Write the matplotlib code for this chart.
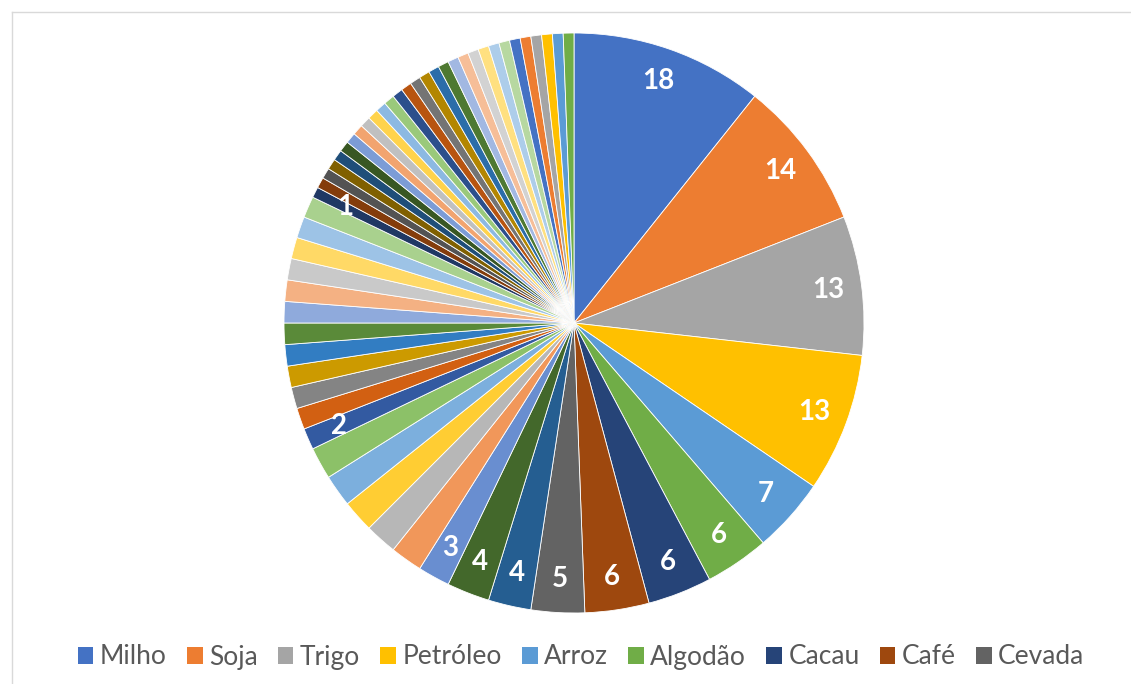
import colorsys

import matplotlib
matplotlib.use("Agg")
import matplotlib.pyplot as plt
import numpy as np
from matplotlib.lines import Line2D
from matplotlib.patches import Patch

plt.rcParams["font.family"] = ["Lato", "DejaVu Sans"]

# Commodity shares; only the first nine categories carry names in the legend
names = ["Milho", "Soja", "Trigo", "Petróleo", "Arroz", "Algodão", "Cacau", "Café", "Cevada"]
values = [18, 14, 13, 13, 7, 6, 6, 6, 5,
          0, 4, 4, 3, 3, 3, 3, 3, 3,
          2, 2, 2, 2, 2, 2,
          2, 2, 2, 2, 2, 2,
          1, 1, 1, 1, 1, 1,
          1, 1, 1, 1, 1, 1,
          1, 1, 1, 1, 1, 1,
          1, 1, 1, 1, 1, 1,
          1, 1, 1, 1, 1, 1]
# indices of the slices that show their value
labelled = [0, 1, 2, 3, 4, 5, 6, 7, 8, 10, 11, 12, 18, 30]

# Office theme accents and the lum-mod / lum-off variations used per cycle
accents = ["#4472C4", "#ED7D31", "#A5A5A5", "#FFC000", "#5B9BD5", "#70AD47"]
variations = [(1.0, 0.0), (0.6, 0.0), (0.8, 0.2), (0.8, 0.0), (0.6, 0.4),
              (0.5, 0.0), (0.7, 0.3), (0.7, 0.0), (0.5, 0.5)]


def office_color(i):
    r, g, b = matplotlib.colors.to_rgb(accents[i % 6])
    mod, off = variations[(i // 6) % len(variations)]
    h, l, s = colorsys.rgb_to_hls(r, g, b)
    l = min(1.0, l * mod + off)
    return colorsys.hls_to_rgb(h, l, s)


W, H = 1131, 684
fig = plt.figure(figsize=(W / 100, H / 100), dpi=100)
fig.patch.set_facecolor("white")

cx, cy, R = 574, 323, 290
ax = fig.add_axes([(cx - R) / W, (H - cy - R) / H, 2 * R / W, 2 * R / H])

keep = [i for i, v in enumerate(values) if v > 0]
wedges, _ = ax.pie([values[i] for i in keep],
                   colors=[office_color(i) for i in keep],
                   startangle=90, counterclock=False, radius=1,
                   wedgeprops=dict(edgecolor="white", linewidth=0.6))
ax.set_xlim(-1, 1)
ax.set_ylim(-1, 1)
ax.set_axis_off()

for w, i in zip(wedges, keep):
    if i in labelled:
        ang = np.deg2rad((w.theta1 + w.theta2) / 2)
        ax.text(0.885 * np.cos(ang), 0.885 * np.sin(ang), str(values[i]),
                ha="center", va="center", color="white",
                fontsize=20, fontweight="bold")

handles = [Patch(facecolor=office_color(i), edgecolor="none", label=names[i])
           for i in range(len(names))]
fig.legend(handles=handles, loc="center", bbox_to_anchor=(581 / W, 1 - 657 / H),
           ncol=len(names), frameon=False, fontsize=19, labelcolor="#595959",
           handlelength=0.6, handleheight=0.6, handletextpad=0.25,
           columnspacing=0.75)

# light chart-area border along the top and left
border = "#D9D9D9"
fig.add_artist(Line2D([12 / W, 1], [1 - 12 / H, 1 - 12 / H], color=border,
                      lw=1, transform=fig.transFigure))
fig.add_artist(Line2D([12 / W, 12 / W], [0, 1 - 12 / H], color=border,
                      lw=1, transform=fig.transFigure))

fig.savefig("out.png", dpi=100)
